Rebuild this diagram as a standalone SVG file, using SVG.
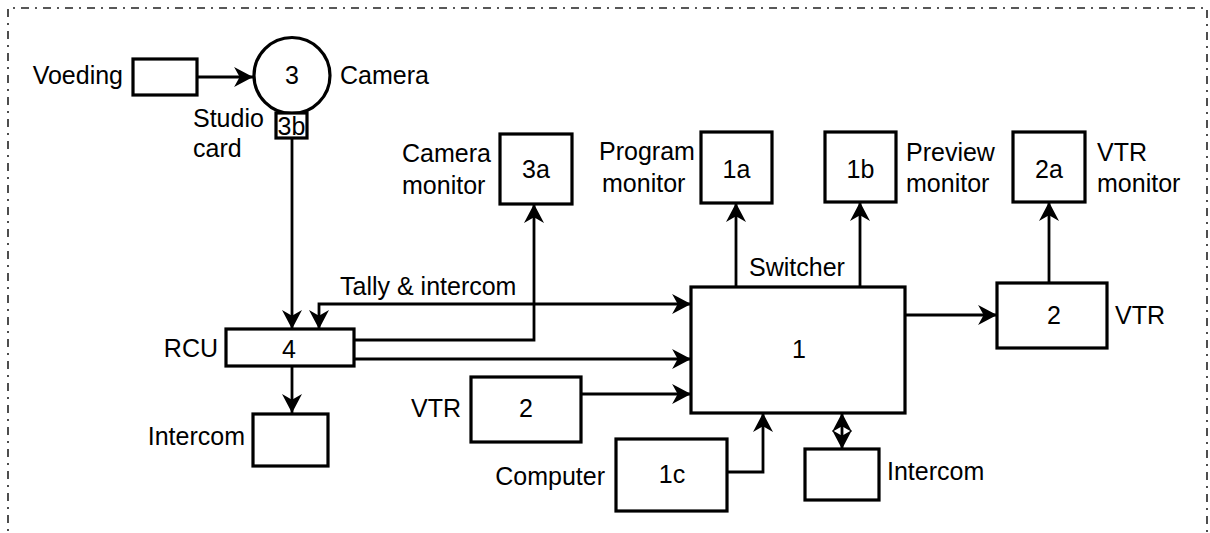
<svg xmlns="http://www.w3.org/2000/svg" width="1210" height="533" viewBox="0 0 1210 533">
<style>
  .box { fill: #fff; stroke: #000; stroke-width: 3.2; }
  .t { font-family: "Liberation Sans", Arial, sans-serif; font-size: 25px; fill: #000; }
  .c { text-anchor: middle; }
  .e { text-anchor: end; }
  .ln { fill: none; stroke: #000; stroke-width: 2.8; }
  .frame { fill: none; stroke: #222; stroke-width: 1.6; stroke-dasharray: 8 6 2 6; }
</style>
<defs>
  <marker id="arr" markerUnits="userSpaceOnUse" markerWidth="20" markerHeight="20" viewBox="0 0 18 18" refX="17" refY="9" orient="auto-start-reverse">
    <path d="M0,0 L17,9 L0,18 L5,9 Z" fill="#000"/>
  </marker>
</defs>
<rect width="1210" height="533" fill="#fff"/>
<path class="frame" d="M8,545 L8,8 L1207,8 L1207,545"/>

<g id="connectors">
  <path class="ln" d="M197,77 L253,77" marker-end="url(#arr)"/>
  <path class="ln" d="M292,138 L292,329" marker-end="url(#arr)"/>
  <path class="ln" d="M319,329 L319,304 L691,304" marker-start="url(#arr)" marker-end="url(#arr)"/>
  <path class="ln" d="M354,340 L534,340 L534,204" marker-end="url(#arr)"/>
  <path class="ln" d="M354,359 L691,359" marker-end="url(#arr)"/>
  <path class="ln" d="M581,394 L691,394" marker-end="url(#arr)"/>
  <path class="ln" d="M736,287 L736,203" marker-end="url(#arr)"/>
  <path class="ln" d="M860,287 L860,202" marker-end="url(#arr)"/>
  <path class="ln" d="M905,315 L997,315" marker-end="url(#arr)"/>
  <path class="ln" d="M1049,283 L1049,202" marker-end="url(#arr)"/>
  <path class="ln" d="M727,472 L763,472 L763,413" marker-end="url(#arr)"/>
  <path class="ln" d="M842,413 L842,449" marker-start="url(#arr)" marker-end="url(#arr)"/>
  <path class="ln" d="M292,366 L292,413" marker-end="url(#arr)"/>
</g>

<g id="voeding">
  <rect class="box" x="133" y="59" width="64" height="36"/>
  <text class="t e" x="123" y="84">Voeding</text>
</g>

<g id="camera">
  <circle class="box" cx="292" cy="75.5" r="38"/>
  <text class="t c" x="292" y="84">3</text>
  <text class="t" x="340" y="84">Camera</text>
</g>

<g id="studio-card">
  <rect class="box" x="276" y="113" width="31" height="25"/>
  <text class="t c" x="291.5" y="135">3b</text>
  <text class="t" x="193" y="127">Studio</text>
  <text class="t" x="193" y="157">card</text>
</g>

<g id="camera-monitor">
  <rect class="box" x="500" y="134" width="72" height="70"/>
  <text class="t c" x="536" y="178">3a</text>
  <text class="t" x="402" y="162">Camera</text>
  <text class="t" x="402" y="194">monitor</text>
</g>

<g id="program-monitor">
  <rect class="box" x="701" y="132" width="71" height="71"/>
  <text class="t c" x="736.5" y="178">1a</text>
  <text class="t" x="599" y="160">Program</text>
  <text class="t" x="602" y="192">monitor</text>
</g>

<g id="preview-monitor">
  <rect class="box" x="825" y="132" width="71" height="70"/>
  <text class="t c" x="860.5" y="178">1b</text>
  <text class="t" x="906" y="161">Preview</text>
  <text class="t" x="906" y="192">monitor</text>
</g>

<g id="vtr-monitor">
  <rect class="box" x="1013" y="132" width="72" height="70"/>
  <text class="t c" x="1049" y="178">2a</text>
  <text class="t" x="1097" y="161">VTR</text>
  <text class="t" x="1097" y="192">monitor</text>
</g>

<g id="switcher">
  <rect class="box" x="691" y="287" width="214" height="126"/>
  <text class="t c" x="799" y="358">1</text>
  <text class="t" x="749" y="276">Switcher</text>
</g>

<g id="vtr-out">
  <rect class="box" x="997" y="283" width="110" height="65"/>
  <text class="t c" x="1054" y="324">2</text>
  <text class="t" x="1115" y="324">VTR</text>
</g>

<g id="rcu">
  <rect class="box" x="226" y="329" width="128" height="37"/>
  <text class="t c" x="289" y="358">4</text>
  <text class="t e" x="218" y="357">RCU</text>
  <text class="t" x="340" y="295">Tally &amp; intercom</text>
</g>

<g id="intercom-rcu">
  <rect class="box" x="253" y="414" width="75" height="52"/>
  <text class="t e" x="245" y="445">Intercom</text>
</g>

<g id="vtr-in">
  <rect class="box" x="471" y="377" width="110" height="65"/>
  <text class="t c" x="526" y="417">2</text>
  <text class="t e" x="461" y="417">VTR</text>
</g>

<g id="computer">
  <rect class="box" x="616" y="439" width="111" height="72"/>
  <text class="t c" x="672" y="483">1c</text>
  <text class="t e" x="605" y="485">Computer</text>
</g>

<g id="intercom-switcher">
  <rect class="box" x="805" y="449" width="74" height="51"/>
  <text class="t" x="887" y="480">Intercom</text>
</g>
</svg>
